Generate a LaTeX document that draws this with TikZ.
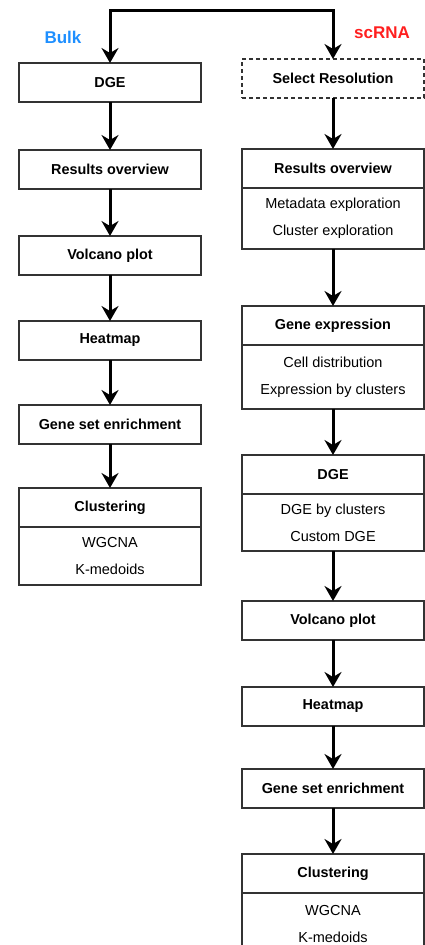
\documentclass[tikz,border=0pt]{standalone}
\usepackage{fontspec}
\setmainfont{Liberation Sans}
\usepackage{xcolor}
\usepackage{tikz}
\usetikzlibrary{shapes,arrows.meta,positioning,calc}

\definecolor{bulkblue}{HTML}{1E8FFF}
\definecolor{scred}{HTML}{FF1F1F}

\begin{document}
\begin{tikzpicture}[
    x=1pt, y=1pt,
    node distance=47pt,
    box/.style={rectangle, draw=black!80, line width=1.2pt, outer sep=0pt, minimum width=182pt, minimum height=39pt, align=center, font=\fontsize{14.4}{17}\selectfont\bfseries},
    body/.style={box, minimum height=61pt, font=\fontsize{14.5}{27}\selectfont},
    arrow/.style={-{Stealth[length=15pt,width=17pt,inset=5pt]}, line width=3pt},
    branch/.style={font=\fontsize{17}{20}\selectfont\bfseries},
]
\useasboundingbox (0,0) rectangle (425,-945);

% Bulk pipeline
\node[box] (bdge) at (110,-82.5) {DGE};
\node[box, below=48pt of bdge] (bres) {Results overview};
\node[box, below=47pt of bres] (bvolc) {Volcano plot};
\node[box, below=46pt of bvolc] (bheat) {Heatmap};
\node[box, below=45pt of bheat] (bgse) {Gene set enrichment};
\node[box, below=44pt of bgse] (bclus) {Clustering};
\node[body, below=0pt of bclus, minimum height=58pt] (bclusb) {WGCNA\\K-medoids};

% scRNA pipeline
\node[box, dashed, dash pattern=on 4pt off 3pt] (ssel) at (333,-78.5) {Select Resolution};
\node[box, below=51pt of ssel] (sres) {Results overview};
\node[body, below=0pt of sres] (sresb) {Metadata exploration\\Cluster exploration};
\node[box, below=57pt of sresb] (sgene) {Gene expression};
\node[body, below=0pt of sgene, minimum height=64pt] (sgeneb) {Cell distribution\\Expression by clusters};
\node[box, below=46pt of sgeneb] (sdge) {DGE};
\node[body, below=0pt of sdge, minimum height=57pt] (sdgeb) {DGE by clusters\\Custom DGE};
\node[box, below=50pt of sdgeb] (svolc) {Volcano plot};
\node[box, below=47pt of svolc] (sheat) {Heatmap};
\node[box, below=43pt of sheat] (sgse) {Gene set enrichment};
\node[box, below=46pt of sgse] (sclus) {Clustering};
\node[body, below=0pt of sclus] (sclusb) {WGCNA\\K-medoids};

% Branch labels
\node[branch, text=bulkblue] (bulk) at (63,-37.5) {Bulk};
\node[branch, text=scred] (scrna) at (382,-33) {scRNA};

% Split at the top
\coordinate (fork) at (221,-10);
\draw[arrow] (fork) -| (bdge.north);
\draw[arrow] (fork) -| (ssel.north);

% Arrows down the bulk column
\draw[arrow] (bdge) -- (bres);
\draw[arrow] (bres) -- (bvolc);
\draw[arrow] (bvolc) -- (bheat);
\draw[arrow] (bheat) -- (bgse);
\draw[arrow] (bgse) -- (bclus);

% Arrows down the scRNA column
\draw[arrow] (ssel) -- (sres);
\draw[arrow] (sresb) -- (sgene);
\draw[arrow] (sgeneb) -- (sdge);
\draw[arrow] (sdgeb) -- (svolc);
\draw[arrow] (svolc) -- (sheat);
\draw[arrow] (sheat) -- (sgse);
\draw[arrow] (sgse) -- (sclus);

\end{tikzpicture}
\end{document}
